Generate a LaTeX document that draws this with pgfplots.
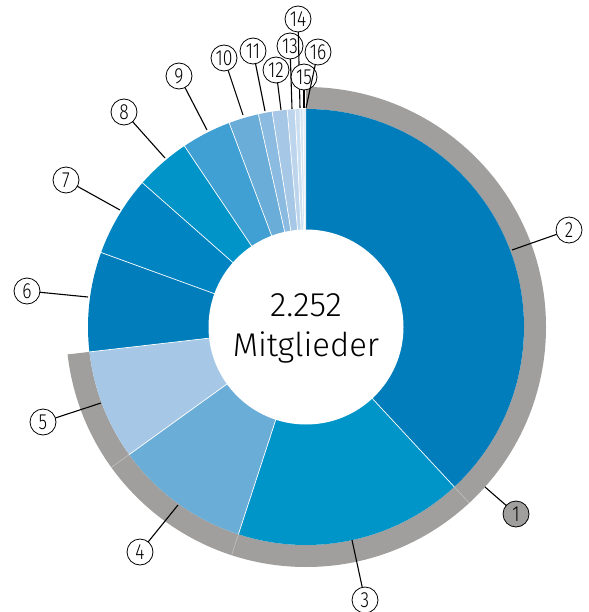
\documentclass[border=0pt]{standalone}
\usepackage{pgfplots}
\pgfplotsset{compat=1.18}
\usepackage{pgfplotstable}
\usepackage{fontspec}
\setmainfont{Fira Sans}[UprightFont={* Light}]

\definecolor{c2}{HTML}{007DBA}
\definecolor{c3}{HTML}{0095C9}
\definecolor{c4}{HTML}{6AADD7}
\definecolor{c5}{HTML}{A6C8E6}
\definecolor{c6}{HTML}{007DBA}
\definecolor{c7}{HTML}{0084C2}
\definecolor{c8}{HTML}{0094C8}
\definecolor{c9}{HTML}{40A0D3}
\definecolor{c10}{HTML}{6AADD8}
\definecolor{c11}{HTML}{8BBBE0}
\definecolor{c12}{HTML}{A6C8E6}
\definecolor{c13}{HTML}{BCD5EC}
\definecolor{c14}{HTML}{CCDFF1}
\definecolor{c15}{HTML}{D8E6F4}
\definecolor{c16}{HTML}{E4EEF8}
\definecolor{ringgrey}{HTML}{A09F9E}

% members per group (segment 1 = grey outer ring = groups 2-5)
\pgfplotstableread{
seg value col
2 858 c2
3 381 c3
4 226 c4
5 183 c5
6 166 c6
7 134 c7
8 92 c8
9 83 c9
10 50 c10
11 23 c11
12 25 c12
13 13 c13
14 8 c14
15 5 c15
16 5 c16
}\segtable

% labels: number, circle centre x y, leader start x y
\pgfplotstableread{
n cx cy lx ly
1 516 514 485 487
2 569 230 512 250
3 365 600 352 540
4 140 552 178 505
5 43 422 101 403
6 27 291 88 297
7 66 180 120 210
8 124 112 165 158
9 179 76 207 130
10 224 58 243 115
11 253 51 265 111
12 276 70 281 110
13 290 46 292 109
14 298 19 300 108
15 304 77 304 108
16 318 52 306 108
}\labtable

\pgfplotstablegetrowsof{\segtable}
\pgfmathtruncatemacro\nseg{\pgfplotsretval-1}
\gdef\total{0}
\foreach \i in {0,...,\nseg}{%
  \pgfplotstablegetelem{\i}{value}\of\segtable
  \pgfmathsetmacro\tmpsum{\total+\pgfplotsretval}%
  \global\let\total\tmpsum
}
\gdef\cumsum{0}
\foreach \i in {0,...,\nseg}{%
  \pgfplotstablegetelem{\i}{value}\of\segtable
  \edef\v{\pgfplotsretval}%
  \pgfmathsetmacro\a{90-\cumsum/\total*360}%
  \pgfmathsetmacro\nc{\cumsum+\v}%
  \global\let\cumsum\nc
  \pgfmathsetmacro\b{90-\cumsum/\total*360}%
  \expandafter\xdef\csname aS\i\endcsname{\a}%
  \expandafter\xdef\csname aE\i\endcsname{\b}%
  \pgfplotstablegetelem{\i}{col}\of\segtable
  \expandafter\xdef\csname cS\i\endcsname{\pgfplotsretval}%
}

\begin{document}
\begin{tikzpicture}
\begin{axis}[scale only axis, width=589bp, height=612bp,
  xmin=0, xmax=589, ymin=0, ymax=612, y dir=reverse,
  hide axis, clip=true]
% grey outer ring over groups 2-5
\edef\tmp{\noexpand\fill[ringgrey]
  (axis cs:{306+240*cos(\csname aS0\endcsname)},{327-240*sin(\csname aS0\endcsname)})
  arc[start angle=\csname aS0\endcsname, end angle=\csname aE3\endcsname, radius=240bp]
  -- (axis cs:{306+218*cos(\csname aE3\endcsname)},{327-218*sin(\csname aE3\endcsname)})
  arc[start angle=\csname aE3\endcsname, end angle=\csname aS0\endcsname, radius=218bp] -- cycle;}
\tmp
\pgfplotsinvokeforeach{0,1,2}{%
  \edef\tmp{\noexpand\draw[white, opacity=0.35, line width=0.6pt]
   (axis cs:{306+218*cos(\csname aE#1\endcsname)},{327-218*sin(\csname aE#1\endcsname)})
   -- (axis cs:{306+240*cos(\csname aE#1\endcsname)},{327-240*sin(\csname aE#1\endcsname)});}%
  \tmp
}
% donut sectors
\pgfplotsinvokeforeach{0,...,14}{%
  \edef\tmp{\noexpand\fill[fill=\csname cS#1\endcsname]
   (axis cs:306,327) -- (axis cs:{306+218*cos(\csname aS#1\endcsname)},{327-218*sin(\csname aS#1\endcsname)})
   arc[start angle=\csname aS#1\endcsname, end angle=\csname aE#1\endcsname, radius=218bp] -- cycle;}%
  \tmp
}
\pgfplotsinvokeforeach{0,...,13}{%
  \edef\tmp{\noexpand\draw[white, line width=0.7pt]
   (axis cs:306,327) -- (axis cs:{306+218*cos(\csname aE#1\endcsname)},{327-218*sin(\csname aE#1\endcsname)});}%
  \tmp
}
\fill[white] (axis cs:306,327) circle[radius=97.5bp];
\node[anchor=base, font=\fontsize{34}{36}\selectfont] at (axis cs:306,316.5) {2.252};
\node[anchor=base, font=\fontsize{33}{36}\selectfont] at (axis cs:306,356) {Mitglieder};
% labels
\pgfplotsinvokeforeach{0,...,15}{%
  \pgfplotstablegetelem{#1}{n}\of\labtable \edef\ln{\pgfplotsretval}%
  \pgfplotstablegetelem{#1}{cx}\of\labtable \edef\lcx{\pgfplotsretval}%
  \pgfplotstablegetelem{#1}{cy}\of\labtable \edef\lcy{\pgfplotsretval}%
  \pgfplotstablegetelem{#1}{lx}\of\labtable \edef\llx{\pgfplotsretval}%
  \pgfplotstablegetelem{#1}{ly}\of\labtable \edef\lly{\pgfplotsretval}%
  \ifnum#1=0 \def\lfill{ringgrey}\else\def\lfill{white}\fi
  \edef\tmp{\noexpand\draw[black, line width=1.1pt] (axis cs:\llx,\lly) -- (axis cs:\lcx,\lcy);
    \noexpand\node[circle, draw=black, line width=0.8pt, fill=\lfill, minimum size=26bp, inner sep=0pt,
      font=\noexpand\fontsize{22}{22}\noexpand\selectfont] at (axis cs:\lcx,\lcy) {\noexpand\scalebox{0.8}[1]{\ln}};}%
  \tmp
}
\end{axis}
\pgfresetboundingbox
\path (current axis.south west) rectangle (current axis.north east);
\end{tikzpicture}
\end{document}
